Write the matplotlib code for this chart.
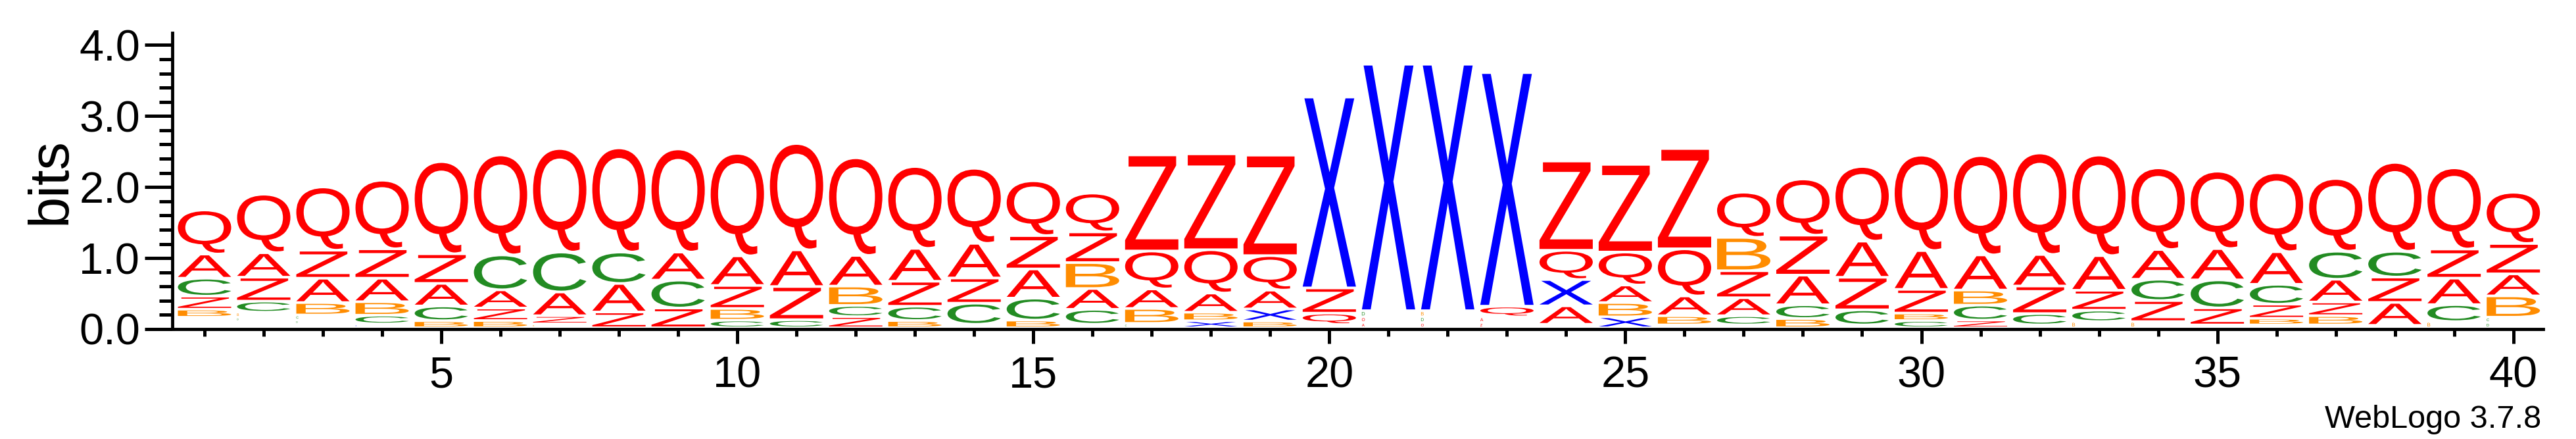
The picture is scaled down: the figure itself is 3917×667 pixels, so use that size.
import matplotlib
matplotlib.use("Agg")
import matplotlib.pyplot as plt
from matplotlib.textpath import TextPath
from matplotlib.font_manager import FontProperties
from matplotlib.patches import PathPatch
from matplotlib.transforms import Affine2D
from matplotlib.ticker import FixedLocator, MultipleLocator

plt.rcParams['font.family'] = ['Liberation Sans', 'DejaVu Sans']

# ---------------- data (bits per letter, positions 1..40) ----------------
positions = list(range(1, 41))

Q_bits = [0.621, 0.824, 0.891, 0.966, 1.298, 1.408, 1.458, 1.467, 1.452, 1.443,
          1.498, 1.375, 1.153, 1.057, 0.772, 0.547, 0.534, 0.610, 0.486, 0.160,
          0.0, 0.0, 0.150, 0.412, 0.464, 0.664, 0.636, 0.791, 1.051, 1.344,
          1.399, 1.429, 1.416, 1.150, 1.090, 1.112, 1.024, 1.251, 1.143, 0.721]
A_bits = [0.340, 0.345, 0.343, 0.331, 0.318, 0.256, 0.334, 0.402, 0.395, 0.417,
          0.516, 0.432, 0.463, 0.488, 0.411, 0.293, 0.275, 0.270, 0.265, 0.046,
          0.075, 0.0, 0.080, 0.260, 0.247, 0.278, 0.253, 0.417, 0.509, 0.546,
          0.495, 0.444, 0.488, 0.419, 0.441, 0.459, 0.320, 0.323, 0.373, 0.310]
Z_bits = [0.183, 0.337, 0.394, 0.414, 0.417, 0.176, 0.114, 0.222, 0.278, 0.324,
          0.467, 0.157, 0.352, 0.355, 0.470, 0.432, 1.353, 1.350, 1.415, 0.355,
          0.0, 0.0, 0.074, 1.257, 1.235, 1.412, 0.380, 0.563, 0.458, 0.334,
          0.108, 0.388, 0.280, 0.296, 0.240, 0.198, 0.192, 0.357, 0.410, 0.428]
C_bits = [0.253, 0.156, 0.070, 0.123, 0.207, 0.492, 0.562, 0.442, 0.393, 0.108,
          0.114, 0.158, 0.201, 0.297, 0.309, 0.210, 0.062, 0.0, 0.0, 0.0,
          0.0, 0.0, 0.0, 0.0, 0.0, 0.0, 0.130, 0.194, 0.213, 0.102,
          0.211, 0.160, 0.161, 0.300, 0.394, 0.280, 0.395, 0.364, 0.239, 0.075]
B_bits = [0.114, 0.070, 0.175, 0.190, 0.100, 0.102, 0.056, 0.0, 0.0, 0.164,
          0.0, 0.272, 0.102, 0.049, 0.108, 0.365, 0.210, 0.120, 0.095, 0.0,
          0.0, 0.085, 0.0, 0.049, 0.201, 0.130, 0.470, 0.130, 0.040, 0.105,
          0.212, 0.040, 0.087, 0.087, 0.0, 0.094, 0.131, 0.034, 0.087, 0.300]
X_bits = [0.050, 0.050, 0.050, 0.054, 0.0, 0.0, 0.0, 0.0, 0.0, 0.0,
          0.0, 0.0, 0.0, 0.0, 0.0, 0.050, 0.0, 0.099, 0.170, 2.688,
          3.471, 3.471, 3.289, 0.370, 0.154, 0.040, 0.040, 0.0, 0.0, 0.0,
          0.0, 0.0, 0.0, 0.0, 0.040, 0.040, 0.040, 0.0, 0.0, 0.0]
D_bits = [0.050, 0.060, 0.060, 0.0, 0.0, 0.0, 0.0, 0.0, 0.0, 0.0,
          0.0, 0.0, 0.0, 0.0, 0.0, 0.0, 0.0, 0.0, 0.0, 0.0,
          0.085, 0.080, 0.0, 0.0, 0.0, 0.0, 0.0, 0.0, 0.0, 0.0,
          0.0, 0.0, 0.0, 0.0, 0.0, 0.0, 0.0, 0.0, 0.0, 0.074]
O_bits = [0.048, 0.039, 0.0, 0.0, 0.0, 0.0, 0.0, 0.0, 0.0, 0.0,
          0.0, 0.0, 0.0, 0.0, 0.0, 0.0, 0.0, 0.0, 0.0, 0.0,
          0.080, 0.075, 0.0, 0.0, 0.0, 0.0, 0.0, 0.0, 0.0, 0.0,
          0.0, 0.0, 0.0, 0.0, 0.0, 0.0, 0.0, 0.0, 0.0, 0.0]

letter_bits = {'Q': Q_bits, 'A': A_bits, 'Z': Z_bits, 'C': C_bits,
               'B': B_bits, 'X': X_bits, 'D': D_bits, 'O': O_bits}
letter_colors = {'Q': '#ff0000', 'A': '#ff0000', 'Z': '#ff0000', 'O': '#ff0000',
                 'C': '#228b22', 'D': '#228b22', 'B': '#ff8c00', 'X': '#0000ff'}

y_ticks = [0, 1, 2, 3, 4]
y_tick_labels = ['0.0', '1.0', '2.0', '3.0', '4.0']
x_major_ticks = [5, 10, 15, 20, 25, 30, 35, 40]
footer = 'WebLogo 3.7.8'
y_label = 'bits'

# ---------------- figure ----------------
W, H = 3917, 667
fig = plt.figure(figsize=(W / 100, H / 100), dpi=100)
ax_left, ax_right = 266, 3866.7
ax_bottom_px, ax_top_px = 500, 50
ax = fig.add_axes([ax_left / W, (H - ax_bottom_px) / H,
                   (ax_right - ax_left) / W, (ax_bottom_px - ax_top_px) / H])
px_per_bit = 107.9
ax.set_xlim(0.5, 40.5)
ax.set_ylim(0, (ax_bottom_px - ax_top_px) / px_per_bit)

fp = FontProperties(family='Liberation Sans')
glyph_cache = {}


def glyph(ch):
    if ch not in glyph_cache:
        p = TextPath((0, 0), ch, size=100, prop=fp)
        glyph_cache[ch] = (p, p.get_extents())
    return glyph_cache[ch]


gap = 4.0 / px_per_bit        # small white gap under each letter
box_w = 0.9                   # letter width in column units
px_per_col = (ax_right - ax_left) / 40.0

for i, pos in enumerate(positions):
    stack = [(letter_bits[L][i], L) for L in letter_bits if letter_bits[L][i] > 0]
    stack.sort(key=lambda t: t[0])
    y = 0.0
    for h, L in stack:
        path, ext = glyph(L)
        ink = h - gap
        ink_px = ink * px_per_bit
        if ink_px >= 6:
            x0 = pos - box_w / 2
            sx = box_w / ext.width
            sy = ink / ext.height
            tr = Affine2D().translate(-ext.x0, -ext.y0).scale(sx, sy).translate(x0, y + gap)
        elif ink_px >= 1.5:
            # tiny symbols keep their natural proportions
            hpx = ink_px
            wpx = hpx * ext.width / ext.height
            x0 = pos - box_w / 2
            sx = (wpx / px_per_col) / ext.width
            sy = ink / ext.height
            tr = Affine2D().translate(-ext.x0, -ext.y0).scale(sx, sy).translate(x0, y + gap)
        else:
            y += h
            continue
        patch = PathPatch(tr.transform_path(path), facecolor=letter_colors[L],
                          edgecolor='none', lw=0)
        ax.add_patch(patch)
        y += h

# ---------------- axes styling ----------------
for s in ['top', 'right']:
    ax.spines[s].set_visible(False)
ax.spines['left'].set_linewidth(3.5)
ax.spines['bottom'].set_linewidth(3.5)
ax.spines['left'].set_position(('outward', 2.9))

ax.yaxis.set_major_locator(FixedLocator(y_ticks))
ax.set_yticklabels(y_tick_labels)
ax.yaxis.set_minor_locator(MultipleLocator(0.2))
ax.xaxis.set_major_locator(FixedLocator(x_major_ticks))
ax.set_xticklabels([str(t) for t in x_major_ticks])
ax.xaxis.set_minor_locator(FixedLocator(positions))

ax.tick_params(axis='y', which='major', direction='out', length=30.2, width=3.6,
               labelsize=48, pad=5)
ax.tick_params(axis='y', which='minor', direction='out', length=14.4, width=3.6)
ax.tick_params(axis='x', which='major', direction='out', length=15.6, width=3.6,
               labelsize=48, pad=13.5)
ax.tick_params(axis='x', which='minor', direction='out', length=7.7, width=3.6)

ax.set_ylabel(y_label, fontsize=61)
ax.yaxis.set_label_coords((118 - ax_left) / (ax_right - ax_left), 0.5)

fig.text(3864 / W, (H - 650) / H, footer, ha='right', va='baseline', fontsize=35)

fig.savefig('out.png', dpi=100)
